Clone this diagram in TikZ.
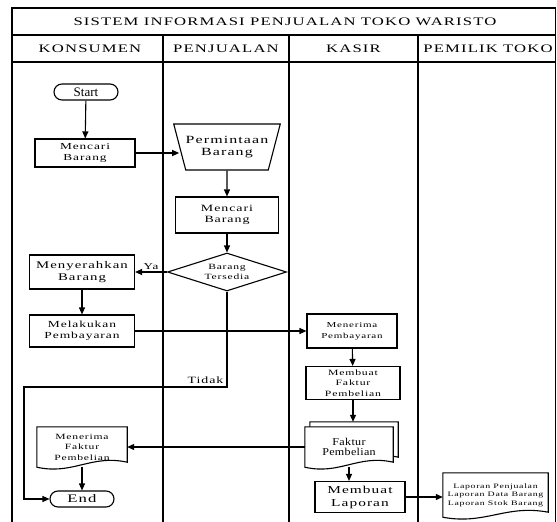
\documentclass[tikz,border=0pt]{standalone}
\usepackage{fontspec}
\setmainfont{Liberation Serif}[FakeStretch=1.45, LetterSpace=10]
\newfontfamily\rapat{Liberation Serif}[FakeStretch=1.15, LetterSpace=3]
\newfontfamily\biasa{Liberation Serif}
\usetikzlibrary{arrows.meta, shapes.geometric, calc, backgrounds}

\newcommand{\ukuran}[2]{\fontsize{#1}{#2}\selectfont}
% garis bentuk dokumen (bawah bergelombang)
\newcommand{\dokumen}[1]{%
  \draw[garis, fill=white] let \p1=(#1.south west), \p2=(#1.south east), \n1={\x2-\x1} in
    (#1.south west) -- (#1.north west) -- (#1.north east) -- ([yshift=5pt]#1.south east)
    .. controls +(-0.4*\n1, 8pt) and +(0.4*\n1, -8pt) .. (#1.south west) -- cycle;}

\tikzset{
  garis/.style={line width=1.1pt},
  tabel/.style={line width=1.3pt},
  panah/.style={garis, -{Triangle[length=7pt, width=6pt]}},
  proses/.style={garis, draw, rectangle, align=center, inner sep=1pt},
  terminal/.style={garis, draw, rectangle, rounded corners=8pt, minimum width=64pt,
    minimum height=16pt, inner sep=0pt},
  dok/.style={rectangle, align=center, inner sep=1pt},
  judul/.style={font=\ukuran{11.5}{11.5}}
}

\begin{document}
\begin{tikzpicture}[x=1pt, y=-1pt]
  \useasboundingbox (0,0) rectangle (557,522);

  % Tabel swimlane
  \draw[tabel] (12,522) -- (12,8) -- (555.5,8) -- (555.5,522);
  \draw[tabel] (12,35) -- (555.5,35);
  \draw[tabel] (12,62) -- (555.5,62);
  \foreach \kol in {163, 289, 418}
    \draw[tabel] (\kol,35) -- (\kol,522);

  \node[judul] (judul) at (285,21.5) {SISTEM INFORMASI PENJUALAN TOKO WARISTO};
  \node[judul] (konsumen) at (90,48.5) {KONSUMEN};
  \node[judul] (penjualan) at (226,48.5) {PENJUALAN};
  \node[judul] (kasir) at (353.5,48.5) {KASIR};
  \node[judul] (pemilik) at (488,48.5) {PEMILIK TOKO};

  % Konsumen
  \node[terminal, font=\biasa\ukuran{13}{13}] (mulai) at (86,92) {Start};
  \node[proses, minimum width=100pt, minimum height=28pt, font=\ukuran{9.2}{11.5}]
    (cari1) at (85,153) {Mencari\\Barang};
  \node[proses, minimum width=105pt, minimum height=34pt, font=\ukuran{10.2}{11.5}]
    (serah) at (82,272) {Menyerahkan\\Barang};
  \node[proses, minimum width=105pt, minimum height=32pt, font=\ukuran{9.3}{11.5}]
    (bayar) at (82,331) {Melakukan\\Pembayaran};
  \node[dok, minimum width=90pt, minimum height=40pt, font=\ukuran{8}{10.5}]
    (terimadok) at (82,447) {Menerima\\Faktur\\Pembelian};
  \node[terminal, font=\ukuran{11.5}{11.5}] (selesai) at (82,499) {End};

  % Penjualan
  \node[garis, draw, trapezium, shape border rotate=180, trapezium angle=61,
    trapezium stretches=true, minimum width=104pt, minimum height=46pt,
    align=center, inner sep=0pt, font=\ukuran{11}{12}]
    (minta) at (227,147) {Permintaan\\Barang};
  \node[proses, minimum width=103pt, minimum height=36pt, font=\ukuran{9.6}{11.5}]
    (cari2) at (227,215) {Mencari\\Barang};
  \node[garis, draw, diamond, aspect=3.1, minimum width=119pt, minimum height=38pt,
    align=center, inner sep=0pt, font=\ukuran{8}{10.5}]
    (cek) at (227,272) {Barang\\Tersedia};

  % Kasir
  \node[proses, minimum width=90pt, minimum height=34pt, font=\ukuran{7.6}{11}]
    (terima) at (352,331) {Menerima\\Pembayaran};
  \node[proses, minimum width=94pt, minimum height=33pt, font=\ukuran{8.1}{10.5}]
    (faktur) at (353,383) {Membuat\\Faktur\\Pembelian};
  \node[dok, minimum width=88pt, minimum height=40pt] (fakturbelakang) at (354,442) {};
  \node[dok, minimum width=88pt, minimum height=40pt, font=\rapat\ukuran{10.5}{10.5}]
    (fakturdok) at (349,447) {Faktur\\Pembelian};
  \node[proses, minimum width=90pt, minimum height=31pt, font=\ukuran{10.6}{13}]
    (laporan) at (360,497) {Membuat\\Laporan};

  % Pemilik toko
  \node[dok, minimum width=105pt, minimum height=44pt, font=\ukuran{6.8}{8.5}]
    (lapdok) at (495.5,495) {Laporan Penjualan\\Laporan Data Barang\\Laporan Stok Barang};

  \begin{scope}[on background layer]
    \dokumen{terimadok}
    \dokumen{fakturbelakang}
    \dokumen{fakturdok}
    \dokumen{lapdok}
  \end{scope}

  \coordinate (belok) at (24,387);

  % Alur
  \draw[panah] (mulai) -- (cari1);
  \draw[panah] (cari1.east) -- (cari1.east -| minta.west);
  \draw[panah] (minta) -- (cari2);
  \draw[panah] (cari2) -- (cek);
  \draw[panah] (cek.west) -- node[above, inner sep=2pt, font=\ukuran{9}{9}] {Ya} (serah.east);
  \draw[panah] (serah) -- (bayar);
  \draw[panah] (cek.south) |- node[above left, pos=0.5, inner sep=3pt, font=\ukuran{9.6}{10}] {Tidak}
    (belok) |- (selesai.west);
  \draw[panah] (bayar.east) -- (terima.west);
  \draw[panah] (terima) -- (faktur);
  \draw[panah] (faktur.south) -- (faktur.south |- fakturbelakang.north);
  \draw[panah] (fakturdok.west) -- (fakturdok.west -| terimadok.east);
  \draw[panah] (terimadok.south) -- (terimadok.south |- selesai.north);
  \draw[panah] (fakturdok.south) -- (fakturdok.south |- laporan.north);
  \draw[panah] (laporan.east) -- (laporan.east -| lapdok.west);
\end{tikzpicture}
\end{document}
